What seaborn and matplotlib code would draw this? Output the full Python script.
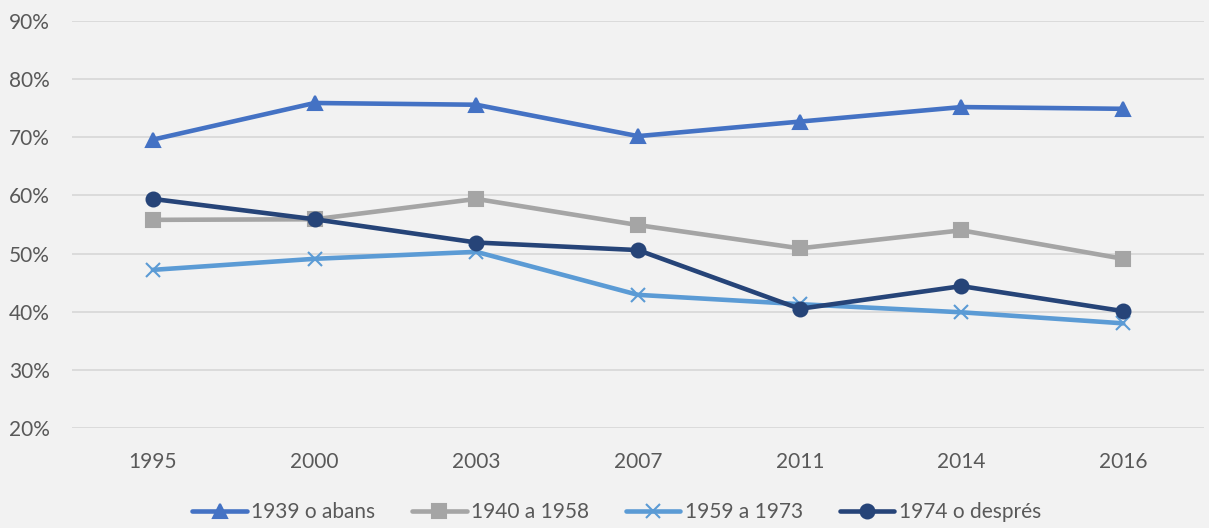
import pandas as pd
import seaborn as sns
import matplotlib.pyplot as plt
from matplotlib.ticker import PercentFormatter

# Dades llegides del gràfic
anys = ['1995', '2000', '2003', '2007', '2011', '2014', '2016']
g1939 = [69.6, 75.9, 75.6, 70.2, 72.7, 75.2, 74.9]
g1940 = [55.8, 55.9, 59.4, 54.9, 50.9, 54.0, 49.1]
g1959 = [47.2, 49.1, 50.3, 42.9, 41.3, 39.9, 38.0]
g1974 = [59.4, 55.9, 51.9, 50.6, 40.5, 44.4, 40.1]
grups = ['1939 o abans', '1940 a 1958', '1959 a 1973', '1974 o després']

colors = ['#4472C4', '#A5A5A5', '#5B9BD5', '#264478']
markers = ['^', 's', 'x', 'o']

sns.set_style('white')
plt.rcParams['font.family'] = ['Lato', 'DejaVu Sans']

fig = plt.figure(figsize=(12.09, 5.28), dpi=100, facecolor='#F2F2F2')
ax = fig.add_axes([0.0596, 0.1894, 0.9363, 0.7708])
ax.set_facecolor('#F2F2F2')

# Una línia per grup (marcadors plens i de traç no es poden barrejar)
for vals, nom, col, mk in zip([g1939, g1940, g1959, g1974], grups, colors, markers):
    df = pd.DataFrame({'any': anys, 'valor': vals})
    sns.lineplot(data=df, x='any', y='valor', color=col, marker=mk,
                 linewidth=3.3, markersize=10, markeredgewidth=1.5,
                 markeredgecolor=col, label=nom, sort=False, ax=ax)

ax.set_xlim(-0.5, 6.5)
ax.set_ylim(20, 90)
ax.set_yticks(range(20, 91, 10))
ax.yaxis.set_major_formatter(PercentFormatter(decimals=0))
ax.grid(axis='y', color='#D9D9D9', linewidth=1.3)
ax.set_axisbelow(True)
for s in ax.spines.values():
    s.set_visible(False)
ax.tick_params(axis='both', length=0, labelsize=15, colors='#595959')
ax.tick_params(axis='x', pad=17)
ax.tick_params(axis='y', pad=16)
ax.set_xlabel('')
ax.set_ylabel('')

handles, labels = ax.get_legend_handles_labels()
ax.legend_.remove()
fig.legend(handles, labels, loc='center', bbox_to_anchor=(0.51, 0.03),
           ncol=4, frameon=False, fontsize=15, labelcolor='#595959',
           handlelength=2.6, handletextpad=0.2, columnspacing=1.8)

fig.savefig('out.png', dpi=100, facecolor='#F2F2F2')
